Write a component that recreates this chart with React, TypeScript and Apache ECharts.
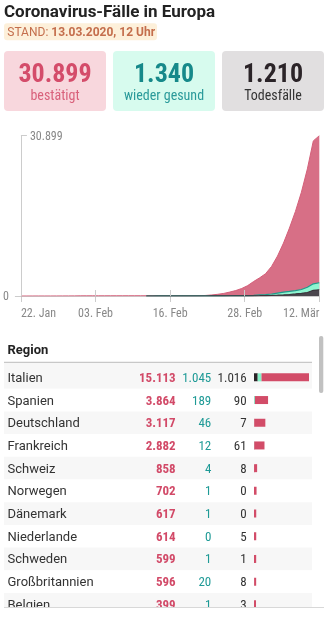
import React, { useEffect, useRef } from 'react';
import * as echarts from 'echarts';

// X axis tick labels (evenly spaced ticks)
const tickLabels = ['22. Jan', '03. Feb', '16. Feb', '28. Feb', '12. Mär'];

// Europe cumulative, daily from 22 Jan to 12 Mär (51 points)
const confirmed = [
  0, 0, 3, 4, 4, 5, 9, 14, 17, 22,
  25, 29, 29, 30, 31, 36, 38, 38, 41, 42,
  45, 45, 45, 46, 46, 47, 47, 47, 47, 48,
  60, 110, 200, 330, 500, 760, 1050, 1450, 2000, 2800,
  3500, 4300, 5700, 7700, 10200, 13100, 16300, 20000, 24500, 29900,
  30899,
];
const recovered = [
  null, null, null, null, null, null, null, null, null, null,
  null, null, null, null, null, null, null, null, null, null,
  null, 2, 4, 5, 6, 8, 9, 10, 12, 14,
  18, 18, 19, 20, 25, 30, 40, 45, 60, 90,
  150, 170, 280, 420, 530, 590, 630, 730, 1010, 1250,
  1340,
];
const deaths = [
  null, null, null, null, null, null, null, null, null, null,
  null, null, null, null, null, null, null, null, null, null,
  null, 0, 0, 0, 1, 1, 1, 1, 1, 1,
  1, 3, 5, 8, 12, 15, 18, 22, 30, 40,
  55, 80, 110, 150, 210, 290, 400, 520, 680, 1100,
  1210,
];

// Table
const countries = ['Italien', 'Spanien', 'Deutschland', 'Frankreich', 'Schweiz', 'Norwegen', 'Dänemark', 'Niederlande', 'Schweden', 'Großbritannien', 'Belgien'];
const countryConfirmed = [15113, 3864, 3117, 2882, 858, 702, 617, 614, 599, 596, 399];
const countryRecovered = [1045, 189, 46, 12, 4, 1, 1, 0, 1, 20, 1];
const countryDeaths = [1016, 90, 7, 61, 8, 0, 0, 5, 1, 8, 3];

const fmt = (n: number) => String(n).replace(/\B(?=(\d{3})+(?!\d))/g, '.');
const CF = "'Roboto Condensed', 'Liberation Sans Narrow', 'Arial Narrow', Roboto, sans-serif";
const RF = 'Roboto, sans-serif';

export default function App() {
  const ref = useRef<HTMLDivElement>(null);
  useEffect(() => {
    const chart = echarts.init(ref.current!, null, { renderer: 'svg' });
    const last = confirmed.length - 1;
    const yMax = Math.max(...confirmed);
    const active = countryConfirmed.map((c, i) => c - countryRecovered[i] - countryDeaths[i]);
    const rowH = 22.7;
    const tableTop = 366;

    const kpis = [
      { value: confirmed[last], label: 'bestätigt', bg: '#f8d7dd', color: '#d44c6a', labelColor: '#d9617b' },
      { value: recovered[last] as number, label: 'wieder gesund', bg: '#d7fbee', color: '#16898a', labelColor: '#2a9a9a' },
      { value: deaths[last] as number, label: 'Todesfälle', bg: '#e1dfe0', color: '#2b2428', labelColor: '#333333' },
    ];

    const graphics: any[] = [
      {
        type: 'text', x: 4, y: 10.8,
        style: { text: 'Coronavirus-Fälle in Europa', fontFamily: RF, fontWeight: 'bold', fontSize: 17, fill: '#222222', align: 'left', verticalAlign: 'middle' },
      },
      { type: 'rect', shape: { x: 4, y: 23.3, width: 153, height: 17, r: 3 }, style: { fill: '#fdf0da' } },
      {
        type: 'text', x: 7.3, y: 32.3,
        style: {
          text: '{a|STAND: }{b|13.03.2020, 12 Uhr}', align: 'left', verticalAlign: 'middle',
          rich: {
            a: { fontFamily: RF, fontSize: 12, fill: '#c46e4c' },
            b: { fontFamily: RF, fontSize: 12, fontWeight: 'bold', fill: '#c46e4c' },
          },
        },
      },
    ];
    kpis.forEach((k, i) => {
      const x = 4 + i * 109;
      graphics.push({ type: 'rect', shape: { x, y: 51, width: 102, height: 60, r: 4 }, style: { fill: k.bg } });
      graphics.push({
        type: 'text', x: x + 51, y: 72.5,
        style: { text: fmt(k.value), fontFamily: CF, fontWeight: 'bold', fontSize: 26, fill: k.color, align: 'center', verticalAlign: 'middle' },
      });
      graphics.push({
        type: 'text', x: x + 51, y: 95,
        style: { text: k.label, fontFamily: CF, fontSize: 14, fill: k.labelColor, align: 'center', verticalAlign: 'middle' },
      });
    });
    graphics.push(
      {
        type: 'text', x: 7.5, y: 349.5,
        style: { text: 'Region', fontFamily: RF, fontWeight: 'bold', fontSize: 13, fill: '#222222', align: 'left', verticalAlign: 'middle' },
      },
      { type: 'rect', shape: { x: 4, y: 363, width: 308, height: 3 }, style: { fill: '#f7f7f7' } },
      { type: 'line', shape: { x1: 4, y1: 362.3, x2: 312, y2: 362.3 }, style: { stroke: '#c8c8c8', lineWidth: 1.3 } },
      { type: 'rect', shape: { x: 319, y: 336, width: 4.3, height: 57, r: 2 }, style: { fill: '#c1c1c1' } },
      { type: 'rect', z: 100, shape: { x: 0, y: 607.5, width: 328, height: 11 }, style: { fill: '#ffffff' } },
      { type: 'line', z: 101, shape: { x1: 4, y1: 607.5, x2: 324, y2: 607.5 }, style: { stroke: '#d8d8d8', lineWidth: 1 } },
    );

    const axisGray = '#cccccc';
    const option: any = {
      animation: false,
      textStyle: { fontFamily: RF },
      graphic: { elements: graphics },
      grid: [
        { left: 19.5, right: 8.7, top: 135.7, bottom: 322 },
        { left: 4, right: 16, top: tableTop, height: rowH * countries.length },
        { left: 254, right: 19, top: tableTop, height: rowH * countries.length },
      ],
      xAxis: [
        {
          gridIndex: 0, type: 'category', boundaryGap: false, data: confirmed.map((_, i) => String(i)),
          position: 'bottom', show: false,
        },
        {
          gridIndex: 0, type: 'value', min: 0, max: last, interval: 12.5, position: 'bottom',
          axisLine: { show: true, lineStyle: { color: axisGray } },
          axisTick: { show: true, length: 6, lineStyle: { color: axisGray } },
          splitLine: { show: false },
          axisLabel: {
            formatter: (v: number) => tickLabels[Math.round(v / 12.5)] ?? '',
            color: '#888888', fontFamily: CF, fontSize: 12, margin: 11,
            alignMinLabel: 'left', alignMaxLabel: 'right', showMinLabel: true, showMaxLabel: true,
          },
        },
        {
          gridIndex: 0, type: 'value', min: 0, max: last, interval: 12.5, position: 'bottom', z: 10,
          axisLine: { show: false },
          axisTick: { show: true, inside: true, length: 6, lineStyle: { color: axisGray } },
          axisLabel: { show: false }, splitLine: { show: false },
        },
        { gridIndex: 1, type: 'value', show: false },
        { gridIndex: 2, type: 'value', show: false, min: 0, max: Math.max(...countryConfirmed) },
      ],
      yAxis: [
        {
          gridIndex: 0, type: 'value', min: 0, max: yMax, position: 'left',
          axisLine: { show: true, lineStyle: { color: axisGray } },
          axisTick: { show: true, length: 6, customValues: [0], lineStyle: { color: axisGray } },
          axisLabel: { customValues: [0], color: '#888888', fontFamily: CF, fontSize: 12, margin: 12 },
          splitLine: { show: false },
        },
        {
          gridIndex: 0, type: 'value', min: 0, max: yMax, position: 'left',
          axisLine: { show: false },
          axisTick: { show: true, inside: true, length: 6, customValues: [yMax], lineStyle: { color: axisGray } },
          axisLabel: { inside: true, customValues: [yMax], formatter: (v: number) => fmt(v), color: '#888888', fontFamily: CF, fontSize: 12, margin: 9 },
          splitLine: { show: false },
        },
        {
          gridIndex: 1, type: 'category', inverse: true, data: countries, z: 0,
          axisLine: { show: false }, axisTick: { show: false }, axisLabel: { show: false },
          splitArea: { show: true, areaStyle: { color: ['#f7f7f7', '#ffffff'] } },
        },
        {
          gridIndex: 1, type: 'category', inverse: true, data: countries, z: 5, position: 'left',
          axisLine: { show: false }, axisTick: { show: false },
          axisLabel: {
            inside: true, margin: 3.5, interval: 0,
            formatter: (v: string, i: number) =>
              `{n|${v}}{c|${fmt(countryConfirmed[i])}}{r|${fmt(countryRecovered[i])}}{d|${fmt(countryDeaths[i])}}`,
            rich: {
              n: { width: 128, align: 'left', fontSize: 13, color: '#333333', fontFamily: RF },
              c: { width: 40.2, align: 'right', fontSize: 13, fontWeight: 'bold', color: '#d24a68', fontFamily: CF },
              r: { width: 35.6, align: 'right', fontSize: 13, color: '#1e9a96', fontFamily: CF },
              d: { width: 35.4, align: 'right', fontSize: 13, color: '#333333', fontFamily: CF },
            },
          },
        },
        { gridIndex: 2, type: 'category', inverse: true, data: countries, show: false },
      ],
      series: [
        {
          type: 'line', name: 'bestätigt', xAxisIndex: 0, yAxisIndex: 0, z: 2,
          data: confirmed, symbol: 'none',
          lineStyle: { color: '#d45f79', width: 1 }, areaStyle: { color: '#d76f86', opacity: 1 },
        },
        {
          type: 'line', name: 'Todesfälle', xAxisIndex: 0, yAxisIndex: 0, z: 4, stack: 'europe', stackStrategy: 'all',
          data: deaths, symbol: 'none',
          lineStyle: { color: '#3a363c', width: 1.2 }, areaStyle: { color: '#4b474e', opacity: 1 },
        },
        {
          type: 'line', name: 'wieder gesund', xAxisIndex: 0, yAxisIndex: 0, z: 3, stack: 'europe', stackStrategy: 'all',
          data: recovered, symbol: 'none',
          lineStyle: { color: '#1f9c8c', width: 1.2 }, areaStyle: { color: '#8ef6d1', opacity: 1 },
        },
        {
          type: 'bar', xAxisIndex: 4, yAxisIndex: 4, stack: 'table', barWidth: 8,
          data: countryDeaths, itemStyle: { color: '#2a2327' },
        },
        {
          type: 'bar', xAxisIndex: 4, yAxisIndex: 4, stack: 'table', barWidth: 8,
          data: countryRecovered, itemStyle: { color: '#86f2c8' },
        },
        {
          type: 'bar', xAxisIndex: 4, yAxisIndex: 4, stack: 'table', barWidth: 8, barMinHeight: 2,
          data: active, itemStyle: { color: '#d24c68' },
        },
      ],
    };
    chart.setOption(option);
    return () => chart.dispose();
  }, []);
  return <div ref={ref} style={{ position: 'fixed', left: 0, top: 0, width: 328, height: 618 }} />;
}
